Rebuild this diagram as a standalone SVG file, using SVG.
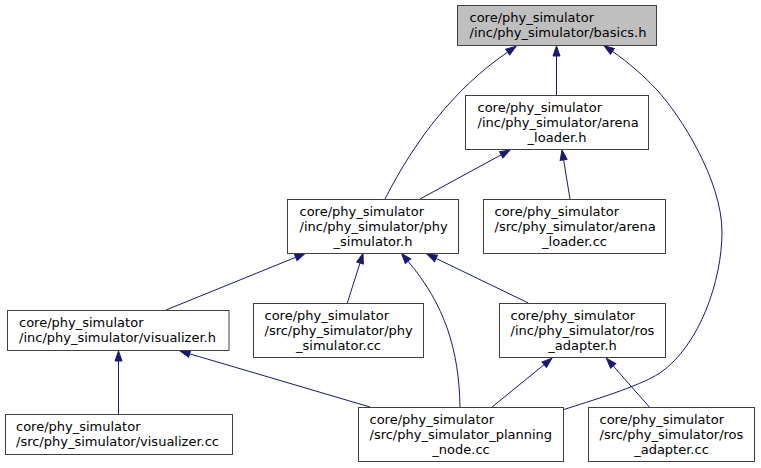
<svg xmlns="http://www.w3.org/2000/svg" width="761" height="468" viewBox="0 0 761 468">
<style>
  .node rect { fill: #ffffff; stroke: #404040; stroke-width: 1; }
  .node.root rect { fill: #bfbfbf; }
  .node text { font-family: "DejaVu Sans", "Liberation Sans", sans-serif; font-size: 13px; fill: #000000; }
  .edge { fill: none; stroke: #191970; stroke-width: 1; marker-end: url(#arrow); }
</style>
<defs>
  <marker id="arrow" markerUnits="userSpaceOnUse" markerWidth="12" markerHeight="9" viewBox="0 -4.5 12 9" refX="0" refY="0" orient="auto" overflow="visible">
    <path d="M0,-3.5 L10,0 L0,3.5 Z" fill="#191970" stroke="#191970" stroke-width="1"/>
  </marker>
</defs>
<rect x="0" y="0" width="761" height="468" fill="#ffffff"/>
<g id="connectors">
  <path class="edge" d="M556.5,95 L556.5,56"/>
  <path class="edge" d="M385,199 C415,140 455,88 507.7,52.1"/>
  <path class="edge" d="M564,409.5 C590,401 638,387 660,373 C700,345 722,280 722,232 C722,180 680,115 657,90 C645,77 628,62 612.4,51.4"/>
  <path class="edge" d="M420,199 L501.2,154.8"/>
  <path class="edge" d="M570,199 L563.6,159.9"/>
  <path class="edge" d="M166,310 L295.7,257.3"/>
  <path class="edge" d="M347.3,303 L360,263"/>
  <path class="edge" d="M460,407 C459,350 445,305 408,261.2"/>
  <path class="edge" d="M528.3,303 L436,258.4"/>
  <path class="edge" d="M118.5,414 L118.5,361"/>
  <path class="edge" d="M370,407 L189.6,353.8"/>
  <path class="edge" d="M491.7,407.3 L544.2,364.6"/>
  <path class="edge" d="M649.3,407 L613.1,365.8"/>
</g>
<g id="node_basics" class="node root">
  <rect x="457.5" y="5.5" width="199" height="40"/>
  <text x="469.5" y="22">core/phy_simulator</text>
  <text x="469.5" y="37">/inc/phy_simulator/basics.h</text>
</g>
<g id="node_arena_loader_h" class="node">
  <rect x="465.5" y="95.5" width="183" height="54"/>
  <text x="477.5" y="111.5">core/phy_simulator</text>
  <text x="477.5" y="126.5">/inc/phy_simulator/arena</text>
  <text x="557" y="141.5" text-anchor="middle">_loader.h</text>
</g>
<g id="node_phy_simulator_h" class="node">
  <rect x="287.5" y="199.5" width="171" height="54"/>
  <text x="299.5" y="215.5">core/phy_simulator</text>
  <text x="299.5" y="230.5">/inc/phy_simulator/phy</text>
  <text x="373" y="245.5" text-anchor="middle">_simulator.h</text>
</g>
<g id="node_arena_loader_cc" class="node">
  <rect x="483.5" y="199.5" width="182" height="54"/>
  <text x="494.5" y="215.5">core/phy_simulator</text>
  <text x="494.5" y="230.5">/src/phy_simulator/arena</text>
  <text x="574.5" y="245.5" text-anchor="middle">_loader.cc</text>
</g>
<g id="node_visualizer_h" class="node">
  <rect x="7.5" y="310.5" width="221.5" height="40"/>
  <text x="19" y="327">core/phy_simulator</text>
  <text x="19" y="342">/inc/phy_simulator/visualizer.h</text>
</g>
<g id="node_phy_simulator_cc" class="node">
  <rect x="253.5" y="303.5" width="170" height="54"/>
  <text x="264.5" y="319.5">core/phy_simulator</text>
  <text x="264.5" y="334.5">/src/phy_simulator/phy</text>
  <text x="338.5" y="349.5" text-anchor="middle">_simulator.cc</text>
</g>
<g id="node_ros_adapter_h" class="node">
  <rect x="499.5" y="303.5" width="166" height="54"/>
  <text x="510.5" y="319.5">core/phy_simulator</text>
  <text x="510.5" y="334.5">/inc/phy_simulator/ros</text>
  <text x="582.5" y="349.5" text-anchor="middle">_adapter.h</text>
</g>
<g id="node_visualizer_cc" class="node">
  <rect x="5.5" y="414.5" width="227" height="40"/>
  <text x="16" y="431">core/phy_simulator</text>
  <text x="16" y="446">/src/phy_simulator/visualizer.cc</text>
</g>
<g id="node_planning_node_cc" class="node">
  <rect x="358.5" y="407.5" width="205" height="54"/>
  <text x="369.5" y="423.5">core/phy_simulator</text>
  <text x="369.5" y="438.5">/src/phy_simulator_planning</text>
  <text x="461" y="453.5" text-anchor="middle">_node.cc</text>
</g>
<g id="node_ros_adapter_cc" class="node">
  <rect x="588.5" y="407.5" width="166" height="54"/>
  <text x="599.5" y="423.5">core/phy_simulator</text>
  <text x="599.5" y="438.5">/src/phy_simulator/ros</text>
  <text x="671.5" y="453.5" text-anchor="middle">_adapter.cc</text>
</g>
</svg>
